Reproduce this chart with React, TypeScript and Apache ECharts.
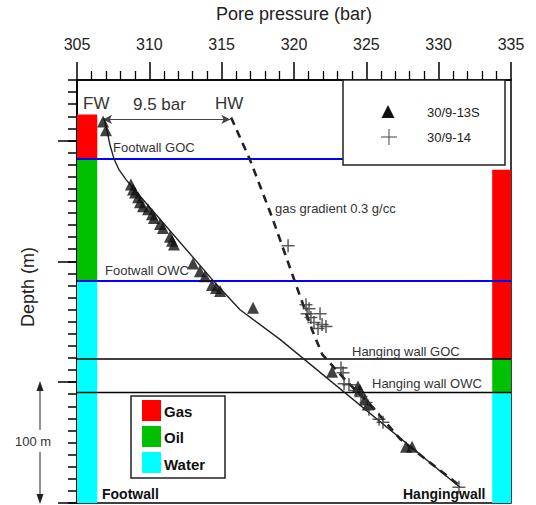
import React, { useEffect, useRef } from "react";
import * as echarts from "echarts";

const FONT = '"Liberation Sans", Arial, Helvetica, sans-serif';

// Axes
const pressureMin = 305;
const pressureMax = 335;
const depthMin = 0; // m below top of plotted interval
const depthMax = 350;
const majorDepthTicks = [50, 150, 250, 350];

// Fluid columns
const fluids = ["Gas", "Oil", "Water"];
const fluidColors = ["#ff0000", "#00c000", "#00ffff"];
const footwallColumn = [305, 306.4]; // pressure span of the footwall column
const hangingColumn = [333.7, 335]; // pressure span of the hanging-wall column
const footwallZoneTops = [28.5, 65.3, 166.4];
const footwallZoneBases = [65.3, 166.4, 350];
const hangingZoneTops = [74.2, 230.9, 258.6];
const hangingZoneBases = [230.9, 258.6, 350];

// Fluid contacts
const contactNames = ["Footwall GOC", "Footwall OWC", "Hanging wall GOC", "Hanging wall OWC"];
const contactDepths = [65.3, 166.4, 230.9, 258.6];
const contactEnds = [323.4, 335, 335, 335];
const contactColors = ["#0000ff", "#0000ff", "#000000", "#000000"];

// Well 30/9-13S (triangles)
const well13SPressure = [
  306.8, 307.0, 308.73, 308.87, 309.01, 309.22, 309.35, 309.56, 309.91, 310.18,
  310.32, 310.74, 310.94, 311.43, 311.57, 311.7, 313.02, 313.5, 313.85, 314.33,
  314.61, 314.89, 317.17, 322.63, 324.42, 324.56, 324.91, 325.11, 327.74, 328.16,
];
const well13SDepth = [
  34.3, 41.6, 86.5, 90.6, 93.0, 97.1, 101.2, 104.4, 106.9, 111.0,
  114.2, 119.1, 122.4, 129.7, 133.0, 136.2, 151.8, 158.3, 162.4, 169.7,
  172.1, 174.6, 188.5, 241.5, 253.7, 256.2, 264.3, 268.4, 303.5, 303.5,
];

// Well 30/9-14 (pluses)
const well14Pressure = [
  319.59, 320.83, 321.04, 320.9, 321.17, 321.8, 321.38, 321.94, 321.66, 322.21,
  323.25, 323.39, 323.46, 323.8, 324.29, 324.63, 324.98, 325.18, 325.88, 326.15, 331.4,
];
const well14Depth = [
  137.1, 186.0, 189.3, 193.4, 196.6, 193.4, 200.7, 202.3, 205.6, 204.0,
  238.2, 242.3, 251.3, 252.1, 257.0, 261.9, 266.8, 272.5, 280.7, 283.1, 336.9,
];

// Footwall pressure trend (solid)
const fwTrendPressure = [
  306.87, 307.07, 307.28, 307.56, 307.9, 308.39, 309.08, 314.68, 316.27, 319.03, 331.47,
];
const fwTrendDepth = [31.8, 41.6, 53.8, 65.3, 74.2, 82.4, 92.2, 169.7, 190.1, 214.6, 336.9];

// Hanging-wall trend / gas gradient (dashed)
const hwTrendPressure = [
  315.65, 316.96, 318.48, 319.93, 321.24, 321.94, 323.53, 325.39, 327.33, 329.4, 331.61,
];
const hwTrendDepth = [31.0, 66.1, 113.4, 162.4, 206.4, 226.8, 248.0, 270.1, 297.0, 316.6, 337.0];

// Pressure offset arrow (9.5 bar)
const offsetArrowPressure = [306.8, 315.6];
const offsetArrowDepth = 32.6;

const zip = (a: number[], b: number[]) => a.map((v, i) => [v, b[i]]);

const PLUS = "path://M0,5.3H12V6.7H0Z M5.3,0H6.7V12H5.3Z";

function txt(text: string, x: number, y: number, size: number, opts: any = {}) {
  return {
    type: "text",
    x,
    y,
    z: 110,
    rotation: opts.rotation || 0,
    style: {
      text,
      fill: opts.color || "#333",
      fontSize: size,
      fontFamily: FONT,
      fontWeight: opts.bold ? "bold" : "normal",
      align: opts.align || "left",
      textAlign: opts.align || "left",
      verticalAlign: "middle",
      textVerticalAlign: "middle",
    },
  };
}

export default function App() {
  const ref = useRef<HTMLDivElement>(null);

  useEffect(() => {
    if (!ref.current) return;
    const chart = echarts.init(ref.current, null, { renderer: "svg" });

    const zoneData: number[][] = [];
    fluids.forEach((_, i) => {
      zoneData.push([footwallColumn[0], footwallColumn[1], footwallZoneTops[i], footwallZoneBases[i], i]);
      zoneData.push([hangingColumn[0], hangingColumn[1], hangingZoneTops[i], hangingZoneBases[i], i]);
    });

    const contactSeries = contactNames.map((name, i) => ({
      name,
      type: "line",
      data: [
        [pressureMin, contactDepths[i]],
        [contactEnds[i], contactDepths[i]],
      ],
      symbol: "none",
      silent: true,
      z: 3,
      lineStyle: { color: contactColors[i], width: i < 2 ? 2 : 1.6 },
    }));

    const axisLineStyle = { color: "#000", width: 1.5 };

    const option: any = {
      animation: false,
      backgroundColor: "#fff",
      textStyle: { fontFamily: FONT },
      grid: {
        left: 77,
        right: 25,
        top: 74,
        bottom: 2,
        show: true,
        borderColor: "#000",
        borderWidth: 1.5,
        backgroundColor: "transparent",
      },
      xAxis: {
        type: "value",
        position: "top",
        min: pressureMin,
        max: pressureMax,
        interval: 5,
        name: "Pore pressure (bar)",
        nameLocation: "middle",
        nameGap: 57,
        nameTextStyle: { fontSize: 18, color: "#222", fontFamily: FONT },
        axisLine: { show: true, lineStyle: axisLineStyle },
        axisTick: { show: true, length: 18, lineStyle: { color: "#000", width: 1.5 } },
        minorTick: { show: true, splitNumber: 5, length: 9, lineStyle: { color: "#000", width: 1.3 } },
        axisLabel: { fontSize: 16, color: "#222", margin: 28, fontFamily: FONT },
        splitLine: { show: false },
        minorSplitLine: { show: false },
      },
      yAxis: [
        {
          type: "value",
          inverse: true,
          min: depthMin,
          max: depthMax,
          interval: 10,
          axisLine: { show: true, lineStyle: axisLineStyle },
          axisTick: { show: true, length: 9, lineStyle: { color: "#000", width: 1.5 } },
          axisLabel: { show: false },
          splitLine: { show: false },
        },
        {
          type: "value",
          inverse: true,
          min: depthMin,
          max: depthMax,
          position: "left",
          axisLine: { show: true, lineStyle: axisLineStyle },
          axisTick: {
            show: true,
            length: 19,
            customValues: majorDepthTicks,
            lineStyle: { color: "#000", width: 1.5 },
          },
          axisLabel: { show: false, customValues: majorDepthTicks },
          splitLine: { show: false },
        },
      ],
      series: [
        {
          name: "zones",
          type: "custom",
          silent: true,
          z: 1,
          data: zoneData,
          encode: { x: [0, 1], y: [2, 3] },
          renderItem: (_params: any, api: any) => {
            const a = api.coord([api.value(0), api.value(2)]);
            const b = api.coord([api.value(1), api.value(3)]);
            return {
              type: "rect",
              shape: { x: a[0], y: a[1], width: b[0] - a[0], height: b[1] - a[1] },
              style: { fill: fluidColors[api.value(4)] },
            };
          },
        },
        ...contactSeries,
        {
          name: "Footwall trend",
          type: "line",
          data: zip(fwTrendPressure, fwTrendDepth),
          symbol: "none",
          smooth: false,
          z: 4,
          lineStyle: { color: "#222", width: 1.4 },
          markLine: {
            silent: true,
            symbol: ["arrow", "arrow"],
            symbolSize: [7, 9],
            label: { show: false },
            lineStyle: { color: "#444", width: 1.2, type: "solid" },
            data: [
              [
                { coord: [offsetArrowPressure[0], offsetArrowDepth] },
                { coord: [offsetArrowPressure[1], offsetArrowDepth] },
              ],
            ],
          },
        },
        {
          name: "Gas gradient",
          type: "line",
          data: zip(hwTrendPressure, hwTrendDepth),
          symbol: "none",
          z: 4,
          lineStyle: { color: "#222", width: 2.6, type: [8, 6] },
        },
        {
          name: "30/9-13S",
          type: "scatter",
          data: zip(well13SPressure, well13SDepth),
          symbol: "triangle",
          symbolSize: 12,
          z: 5,
          itemStyle: { color: "#111" },
        },
        {
          name: "30/9-14",
          type: "scatter",
          data: zip(well14Pressure, well14Depth),
          symbol: PLUS,
          symbolSize: 13,
          z: 5,
          itemStyle: { color: "#333" },
        },
      ],
      graphic: [
        // Top-right legend
        {
          type: "rect",
          z: 100,
          shape: { x: 343, y: 80, width: 162, height: 85 },
          style: { fill: "#fff", stroke: "#222", lineWidth: 1.5 },
        },
        {
          type: "polygon",
          z: 110,
          shape: { points: [[388, 105], [381.5, 118], [394.5, 118]] },
          style: { fill: "#111" },
        },
        txt("30/9-13S", 427, 112, 13, { color: "#222" }),
        {
          type: "line",
          z: 110,
          shape: { x1: 381, y1: 137, x2: 397, y2: 137 },
          style: { stroke: "#444", lineWidth: 1 },
        },
        {
          type: "line",
          z: 110,
          shape: { x1: 389, y1: 129, x2: 389, y2: 145 },
          style: { stroke: "#444", lineWidth: 1 },
        },
        txt("30/9-14", 427, 137, 13, { color: "#222" }),

        // Bottom-left fluid legend
        {
          type: "rect",
          z: 100,
          shape: { x: 131, y: 396, width: 94, height: 82 },
          style: { fill: "#fff", stroke: "#222", lineWidth: 1.5 },
        },
        ...fluids.flatMap((f, i) => [
          {
            type: "rect",
            z: 110,
            shape: { x: 142, y: 400 + i * 26, width: 19, height: 21 },
            style: { fill: fluidColors[i] },
          },
          txt(f, 164, 411 + i * 26.5, 15, { bold: true, color: "#111" }),
        ]),

        // Annotations
        txt("FW", 83, 103, 17, { color: "#333" }),
        txt("9.5 bar", 133, 104, 17, { color: "#333" }),
        txt("HW", 215, 103, 17, { color: "#333" }),
        txt(contactNames[0], 113, 147, 13),
        txt(contactNames[1], 105, 270, 13),
        txt(contactNames[2], 352, 351, 13),
        txt(contactNames[3], 372, 383, 13),
        txt("gas gradient 0.3 g/cc", 275, 208, 13),
        txt("Footwall", 102, 494, 14, { bold: true, color: "#111" }),
        txt("Hangingwall", 403, 494, 14, { bold: true, color: "#111" }),
        txt("Depth (m)", 28, 287, 18, { align: "center", rotation: Math.PI / 2, color: "#222" }),
        txt("100 m", 33, 441, 13, { align: "center", color: "#333" }),
        {
          type: "line",
          z: 110,
          shape: { x1: 40, y1: 388, x2: 40, y2: 430 },
          style: { stroke: "#222", lineWidth: 1 },
        },
        {
          type: "line",
          z: 110,
          shape: { x1: 40, y1: 452, x2: 40, y2: 498 },
          style: { stroke: "#222", lineWidth: 1 },
        },
        {
          type: "polygon",
          z: 110,
          shape: { points: [[40, 381], [36.5, 391], [43.5, 391]] },
          style: { fill: "#222" },
        },
        {
          type: "polygon",
          z: 110,
          shape: { points: [[40, 504], [36.5, 494], [43.5, 494]] },
          style: { fill: "#222" },
        },
      ],
    };

    chart.setOption(option);
    return () => chart.dispose();
  }, []);

  return (
    <div
      ref={ref}
      style={{ position: "absolute", left: 0, top: 0, width: 536, height: 505, background: "#fff" }}
    />
  );
}
